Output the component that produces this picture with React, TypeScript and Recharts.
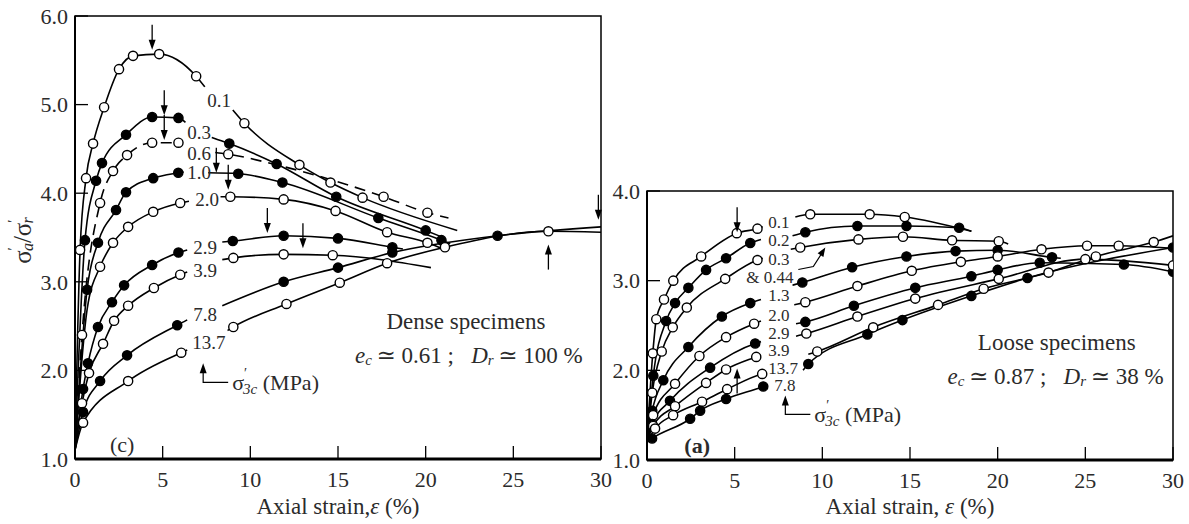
import React from 'react';
import { LineChart, Line, XAxis, YAxis, ReferenceDot, ReferenceArea } from 'recharts';

// point = [axial strain %, stress ratio, 0 when the point carries no marker]

// ---- dense specimens (c) ----
const D01_A = [[0, 1.1, 0], [0.29, 3.36], [0.63, 4.17], [1.03, 4.56], [1.66, 4.97], [2.51, 5.4], [3.31, 5.55], [4.8, 5.57], [6.91, 5.32], [7.4, 5.2, 0]];
const D01_B = [[9.0, 4.94, 0], [9.66, 4.79], [12.8, 4.32], [14.57, 4.12], [16.4, 3.95], [21.8, 3.58, 0]];
const D03_A = [[0, 1.1, 0], [0.57, 3.47], [1.2, 4.14], [1.54, 4.34], [2.91, 4.66], [4.4, 4.86], [5.9, 4.85], [6.3, 4.8, 0]];
const D03_B = [[7.8, 4.63, 0], [8.8, 4.56], [11.5, 4.33], [14.9, 3.96], [20.0, 3.58], [21.0, 3.5, 0]];
const D06_A = [[0, 1.1, 0], [0.4, 2.4], [1.43, 3.89], [2.17, 4.25], [2.97, 4.43], [4.4, 4.57], [5.9, 4.57]];
const D06_B = [[8.0, 4.46, 0], [8.74, 4.44], [11.5, 4.32, 0], [17.6, 3.96], [20.1, 3.78], [21.3, 3.72, 0]];
const D10_A = [[0, 1.1, 0], [0.69, 2.91], [1.31, 3.44], [2.34, 3.81], [2.91, 4.01], [4.46, 4.17], [5.89, 4.23], [6.2, 4.24, 0]];
const D10_B = [[7.6, 4.23, 0], [9.31, 4.22], [11.83, 4.12], [17.3, 3.72], [20.9, 3.47], [21.4, 3.43, 0]];
const D20_A = [[0, 1.1, 0], [0.7, 2.7, 0], [1.43, 3.17], [2.17, 3.44], [3.03, 3.62], [4.46, 3.79], [6.0, 3.89], [6.5, 3.91, 0]];
const D20_B = [[8.3, 3.96, 0], [8.86, 3.96], [11.9, 3.93], [14.86, 3.8], [17.8, 3.56], [20.1, 3.44], [21.1, 3.36, 0]];
const D29_A = [[0, 1.1, 0], [0.46, 1.79], [0.74, 2.08], [1.31, 2.49], [2.11, 2.77], [2.8, 2.96], [4.4, 3.19], [5.9, 3.33], [6.4, 3.36, 0]];
const D29_B = [[8.4, 3.45, 0], [9.0, 3.46], [11.9, 3.52], [15.0, 3.49], [18.1, 3.39], [18.7, 3.37, 0]];
const D39_A = [[0, 1.1, 0], [0.4, 1.63], [0.8, 1.97], [1.6, 2.3], [2.23, 2.56], [3.03, 2.73], [4.5, 2.93], [6.0, 3.08], [6.4, 3.11, 0]];
const D39_B = [[8.4, 3.25, 0], [9.03, 3.27], [11.9, 3.31], [14.7, 3.3], [20.3, 3.16, 0]];
const D78_A = [[0, 1.1, 0], [0.46, 1.53], [1.43, 1.88], [2.97, 2.17], [5.83, 2.51], [6.4, 2.57, 0]];
const D78_B = [[8.4, 2.73, 0], [11.9, 3.0], [15.0, 3.16], [18.1, 3.33], [24.1, 3.52], [30, 3.62, 0]];
const D137_A = [[0, 1.1, 0], [0.46, 1.41], [3.03, 1.88], [6.06, 2.2], [6.4, 2.23, 0]];
const D137_B = [[8.7, 2.45, 0], [9.03, 2.49], [12.06, 2.75], [15.1, 2.99], [17.8, 3.21], [21.1, 3.39], [27.0, 3.57], [30, 3.56, 0]];

const DENSE_LABELS = [
  { t: '0.1', x: 7.54, y: 5.05 }, { t: '0.3', x: 6.4, y: 4.69 }, { t: '0.6', x: 6.4, y: 4.45 },
  { t: '1.0', x: 6.4, y: 4.23 }, { t: '2.0', x: 6.86, y: 3.93 }, { t: '2.9', x: 6.74, y: 3.39 },
  { t: '3.9', x: 6.74, y: 3.13 }, { t: '7.8', x: 6.74, y: 2.63 }, { t: '13.7', x: 6.69, y: 2.32 },
];
const DENSE_ARROWS = [
  { x: 4.4, y: 5.62, dir: 'down' }, { x: 5.09, y: 4.88, dir: 'down' }, { x: 5.09, y: 4.6, dir: 'down' },
  { x: 8.06, y: 4.23, dir: 'down' }, { x: 8.74, y: 4.04, dir: 'down' }, { x: 10.97, y: 3.55, dir: 'down' },
  { x: 13.0, y: 3.38, dir: 'down' }, { x: 29.85, y: 3.7, dir: 'down' }, { x: 27.0, y: 3.42, dir: 'up' },
];

// ---- loose specimens (a) ----
const L01_A = [[0, 1.2, 0], [0.33, 2.19], [0.53, 2.57], [0.97, 2.79], [1.5, 3.0], [3.09, 3.27], [5.12, 3.53], [6.3, 3.58], [6.6, 3.6, 0]];
const L02_A = [[0, 1.2, 0], [0.36, 1.94], [1.09, 2.55], [1.6, 2.75], [2.36, 2.92], [3.37, 3.12], [4.51, 3.25], [5.89, 3.42], [6.5, 3.46, 0]];
const L03_A = [[0, 1.2, 0], [0.3, 1.75], [0.84, 2.21], [1.47, 2.48], [2.27, 2.7], [4.46, 3.02], [6.3, 3.23], [6.6, 3.25, 0]];
const L13_A = [[0, 1.2, 0], [0.3, 1.55], [0.93, 1.89], [2.36, 2.26], [4.27, 2.6], [5.89, 2.75], [6.5, 2.79, 0]];
const L20_A = [[0, 1.2, 0], [0.35, 1.5], [1.6, 1.85], [2.99, 2.16], [4.51, 2.37], [6.11, 2.52], [6.5, 2.55, 0]];
const L29_A = [[0, 1.2, 0], [0.3, 1.4], [1.31, 1.66], [3.6, 2.03], [6.17, 2.3], [6.5, 2.32, 0]];
const L39_A = [[0, 1.2, 0], [0.35, 1.38], [1.6, 1.6], [3.37, 1.86], [4.51, 2.01], [6.23, 2.15], [6.5, 2.17, 0]];
const L137_A = [[0, 1.2, 0], [0.46, 1.35], [1.49, 1.5], [3.14, 1.65], [4.57, 1.79], [6.57, 1.96], [6.8, 1.97, 0]];
const L78_A = [[0, 1.2, 0], [0.29, 1.24], [2.46, 1.46], [3.03, 1.55], [4.51, 1.68], [6.63, 1.82], [6.9, 1.84, 0]];

const L01_B = [[8.46, 3.71, 0], [9.31, 3.74], [12.7, 3.74], [14.7, 3.71], [18.5, 3.55, 0]];
const L02_B = [[8.3, 3.5, 0], [9.03, 3.54], [12.0, 3.61], [14.8, 3.61], [17.8, 3.59], [18.5, 3.55, 0]];
const L03_B = [[8.2, 3.35, 0], [8.74, 3.37], [12.06, 3.46], [14.6, 3.49], [17.4, 3.45], [20.06, 3.44], [20.6, 3.41, 0]];
const L044_B = [[8.3, 2.95, 0], [8.86, 2.98], [11.7, 3.15], [14.8, 3.27], [17.6, 3.33], [20.0, 3.34], [23.1, 3.26], [23.6, 3.25, 0]];
const L13_B = [[8.4, 2.73, 0], [9.03, 2.76], [12.0, 2.94], [15.1, 3.11], [17.9, 3.21], [20.0, 3.27], [22.5, 3.35], [25.1, 3.39], [26.9, 3.39], [30, 3.36, 0]];
const L20_B = [[8.5, 2.52, 0], [9.03, 2.54], [11.8, 2.72], [15.3, 2.92], [18.5, 3.05], [20.0, 3.12], [22.4, 3.2], [27.2, 3.18], [30, 3.1]];
const L29_B = [[8.5, 2.38, 0], [9.09, 2.41], [12.0, 2.6], [15.3, 2.8], [20.06, 3.02], [25.0, 3.24], [30, 3.17]];
const L39_B = [[9.2, 2.18, 0], [9.71, 2.21], [12.9, 2.48], [16.6, 2.73], [19.2, 2.91], [22.9, 3.09], [25.6, 3.27], [28.9, 3.43], [30, 3.5, 0]];
const L137_B = [[8.9, 2.0, 0], [9.2, 2.07], [12.57, 2.4], [14.57, 2.56], [18.5, 2.83], [21.7, 3.03], [30, 3.37]];

const LOOSE_LABELS = [
  { t: '0.1', x: 6.91, y: 3.65 }, { t: '0.2', x: 6.91, y: 3.45 }, { t: '0.3', x: 6.91, y: 3.24 },
  { t: '& 0.44', x: 5.66, y: 3.04 }, { t: '1.3', x: 6.91, y: 2.84 }, { t: '2.0', x: 6.91, y: 2.61 },
  { t: '2.9', x: 6.91, y: 2.415 }, { t: '3.9', x: 6.91, y: 2.225 }, { t: '13.7', x: 6.91, y: 2.025 },
  { t: '7.8', x: 7.26, y: 1.835 },
];
const LOOSE_ARROWS = [{ x: 5.14, y: 3.54, dir: 'down' }, { x: 5.14, y: 2.02, dir: 'up' }];

const X_TICKS = [0, 5, 10, 15, 20, 25, 30];
const DENSE_Y_TICKS = [1, 2, 3, 4, 5, 6];
const LOOSE_Y_TICKS = [1, 2, 3, 4];

const FONT = '"Liberation Serif", "DejaVu Serif", serif';
const INK = '#000';
const TXT = '#2b2b2b';

const toPts = (a: number[][]) => a.map(([x, y, m]) => ({ x, y, m: m === 0 ? 0 : 1 }));

function makeDot(filled: boolean) {
  return (p: any) => {
    const { cx, cy, payload, index } = p;
    if (!payload || payload.m === 0 || cx == null || cy == null) return <g key={`n${index}`} />;
    return <circle key={`d${index}`} cx={cx} cy={cy} r={4.6} fill={filled ? INK : '#fff'} stroke={INK} strokeWidth={1.4} />;
  };
}

const DENSE_SERIES = [
  { id: 'd01a', pts: D01_A, filled: false }, { id: 'd01b', pts: D01_B, filled: false },
  { id: 'd03a', pts: D03_A, filled: true }, { id: 'd03b', pts: D03_B, filled: true },
  { id: 'd06a', pts: D06_A, filled: false, dashed: true }, { id: 'd06b', pts: D06_B, filled: false, dashed: true },
  { id: 'd10a', pts: D10_A, filled: true }, { id: 'd10b', pts: D10_B, filled: true },
  { id: 'd20a', pts: D20_A, filled: false }, { id: 'd20b', pts: D20_B, filled: false },
  { id: 'd29a', pts: D29_A, filled: true }, { id: 'd29b', pts: D29_B, filled: true },
  { id: 'd39a', pts: D39_A, filled: false }, { id: 'd39b', pts: D39_B, filled: false },
  { id: 'd78a', pts: D78_A, filled: true }, { id: 'd78b', pts: D78_B, filled: true },
  { id: 'd137a', pts: D137_A, filled: false }, { id: 'd137b', pts: D137_B, filled: false },
];

const LOOSE_SERIES = [
  { id: 'l01a', pts: L01_A, filled: false }, { id: 'l02a', pts: L02_A, filled: true },
  { id: 'l03a', pts: L03_A, filled: false }, { id: 'l13a', pts: L13_A, filled: true },
  { id: 'l20a', pts: L20_A, filled: false }, { id: 'l29a', pts: L29_A, filled: true },
  { id: 'l39a', pts: L39_A, filled: false }, { id: 'l137a', pts: L137_A, filled: false },
  { id: 'l78a', pts: L78_A, filled: true },
  { id: 'l01b', pts: L01_B, filled: false }, { id: 'l02b', pts: L02_B, filled: true },
  { id: 'l03b', pts: L03_B, filled: false }, { id: 'l044b', pts: L044_B, filled: true },
  { id: 'l13b', pts: L13_B, filled: false }, { id: 'l20b', pts: L20_B, filled: true },
  { id: 'l29b', pts: L29_B, filled: false }, { id: 'l39b', pts: L39_B, filled: false },
  { id: 'l137b', pts: L137_B, filled: true },
];

// ---- shapes drawn at data positions ----
const arrowShape = (dir: string) => (p: any) => {
  const { cx, cy } = p;
  const s = dir === 'up' ? 1 : -1;
  return (
    <g>
      <line x1={cx} y1={cy + s * 25} x2={cx} y2={cy + s * 6} stroke={INK} strokeWidth={1.3} />
      <path d={`M${cx},${cy} L${cx - 3.5},${cy + s * 10} L${cx + 3.5},${cy + s * 10} Z`} fill={INK} />
    </g>
  );
};

const curveLabel = (t: string, size: number) => (p: any) => (
  <text x={p.cx} y={p.cy} dominantBaseline="central" fontSize={size} fill={TXT} fontFamily={FONT}>{t}</text>
);

const leaderShape = (p: any) => {
  const { cx, cy } = p;
  return (
    <g>
      <path d={`M${cx - 27},${cy + 22} L${cx - 12},${cy + 19} L${cx - 3},${cy + 5}`} fill="none" stroke={INK} strokeWidth={1.2} />
      <path d={`M${cx},${cy} L${cx - 1.9},${cy + 9.4} L${cx - 7.7},${cy + 5.8} Z`} fill={INK} />
    </g>
  );
};

const sigmaLeader = (p: any) => {
  const { cx, cy } = p;
  return (
    <g>
      <path d={`M${cx},${cy + 6} V${cy + 19} H${cx + 25}`} fill="none" stroke={INK} strokeWidth={1.2} />
      <path d={`M${cx},${cy} L${cx - 3.5},${cy + 10} L${cx + 3.5},${cy + 10} Z`} fill={INK} />
      <text x={cx + 29} y={cy + 19} dominantBaseline="central" fontSize={22} fill={TXT} fontFamily={FONT}>
        σ<tspan dy={-9} fontSize={14}>′</tspan>
        <tspan dx={-4} dy={16} fontSize={15} fontStyle="italic">3c</tspan>
        <tspan dy={-7}>{'\u00a0(MPa)'}</tspan>
      </text>
    </g>
  );
};

const titleText = (t: string) => (p: any) => (
  <text x={p.cx} y={p.cy} textAnchor="middle" dominantBaseline="central" fontSize={23} fill={TXT} fontFamily={FONT}>{t}</text>
);

const stateText = (ec: string, dr: string) => (p: any) => (
  <text x={p.cx} y={p.cy} textAnchor="middle" dominantBaseline="central" fontSize={23} fill={TXT} fontFamily={FONT}>
    <tspan fontStyle="italic">e</tspan>
    <tspan fontStyle="italic" fontSize={15} dy={5}>c</tspan>
    <tspan dy={-5}>{`\u2009≃ ${ec} ;\u00a0\u00a0 `}</tspan>
    <tspan fontStyle="italic">D</tspan>
    <tspan fontStyle="italic" fontSize={15} dy={5}>r</tspan>
    <tspan dy={-5}>{`\u2009≃ ${dr} %`}</tspan>
  </text>
);

const tagText = (t: string, bold: boolean) => (p: any) => (
  <text x={p.cx} y={p.cy} textAnchor="middle" dominantBaseline="central" fontSize={22} fontWeight={bold ? 700 : 400} fill={TXT} fontFamily={FONT}>{t}</text>
);

const xTitle = (t: string) => (p: any) => {
  const vb = p.viewBox || {};
  return (
    <text x={vb.x + vb.width / 2} y={vb.y + vb.height - 10} textAnchor="middle" fontSize={23} fill={TXT} fontFamily={FONT}>
      {t}<tspan fontStyle="italic">ε</tspan>{'\u00a0(%)'}
    </text>
  );
};

const yTitle = (p: any) => {
  const vb = p.viewBox || {};
  const x = vb.x + 22;
  const y = vb.y + vb.height / 2 + 3;
  return (
    <text x={x} y={y} transform={`rotate(-90 ${x} ${y})`} textAnchor="middle" dominantBaseline="central" fontSize={25} fill={TXT} fontFamily={FONT}>
      σ<tspan dy={-9} fontSize={15}>′</tspan>
      <tspan dx={-4} dy={14} fontSize={16} fontStyle="italic">a</tspan>
      <tspan dy={-5}>/σ</tspan>
      <tspan dy={-9} fontSize={15}>′</tspan>
      <tspan dx={-4} dy={14} fontSize={16} fontStyle="italic">r</tspan>
    </text>
  );
};

function Panel(props: any) {
  const { width, top, right, yMax, yTicks, series, labels, labelSize, arrows, extras, axisTitle, showYTitle, xAxisHeight } = props;
  return (
    <LineChart width={width} height={524} margin={{ top, right, bottom: 0, left: 0 }}>
      <XAxis
        type="number"
        dataKey="x"
        domain={[0, 30]}
        ticks={X_TICKS}
        interval={0}
        allowDataOverflow
        height={xAxisHeight}
        tickSize={-13}
        tickMargin={25}
        axisLine={{ stroke: INK, strokeWidth: 3 }}
        tickLine={{ stroke: INK, strokeWidth: 1.3 }}
        tick={{ fontSize: 22, fill: TXT, fontFamily: FONT }}
        label={xTitle(axisTitle)}
      />
      <YAxis
        type="number"
        domain={[1, yMax]}
        ticks={yTicks}
        interval={0}
        allowDataOverflow
        width={75}
        tickSize={-13}
        tickMargin={20}
        tickFormatter={(v: number) => v.toFixed(1)}
        axisLine={{ stroke: INK, strokeWidth: 2 }}
        tickLine={{ stroke: INK, strokeWidth: 1.3 }}
        tick={{ fontSize: 22, fill: TXT, fontFamily: FONT }}
        label={showYTitle ? yTitle : undefined}
      />
      <ReferenceArea x1={0} x2={30} y1={1} y2={yMax} fill="none" stroke={INK} strokeWidth={1.5} ifOverflow="visible" />
      {series.map((s: any) => (
        <Line
          key={s.id}
          data={toPts(s.pts)}
          dataKey="y"
          type="monotone"
          stroke={INK}
          strokeWidth={1.6}
          strokeDasharray={s.dashed ? '11 7' : undefined}
          dot={makeDot(s.filled)}
          activeDot={false}
          isAnimationActive={false}
        />
      ))}
      {labels.map((l: any, i: number) => (
        <ReferenceDot key={`lb${i}`} x={l.x} y={l.y} r={0} ifOverflow="visible" shape={curveLabel(l.t, labelSize)} />
      ))}
      {arrows.map((a: any, i: number) => (
        <ReferenceDot key={`ar${i}`} x={a.x} y={a.y} r={0} ifOverflow="visible" shape={arrowShape(a.dir)} />
      ))}
      {extras.map((e: any, i: number) => (
        <ReferenceDot key={`ex${i}`} x={e.x} y={e.y} r={0} ifOverflow="visible" shape={e.shape} />
      ))}
    </LineChart>
  );
}

const DENSE_EXTRAS = [
  { x: 22.3, y: 2.55, shape: titleText('Dense specimens') },
  { x: 22.46, y: 2.17, shape: stateText('0.61', '100') },
  { x: 7.31, y: 2.08, shape: sigmaLeader },
  { x: 2.69, y: 1.16, shape: tagText('(c)', false) },
];

const LOOSE_EXTRAS = [
  { x: 23.37, y: 2.31, shape: titleText('Loose specimens') },
  { x: 23.3, y: 1.94, shape: stateText('0.87', '38') },
  { x: 7.89, y: 1.72, shape: sigmaLeader },
  { x: 2.86, y: 1.16, shape: tagText('(a)', true) },
  { x: 10.17, y: 3.37, shape: leaderShape },
];

export default function App() {
  return (
    <div style={{ position: 'absolute', left: 0, top: 0, width: 1189, height: 524, background: '#fff', fontFamily: FONT }}>
      <style>{'svg text, svg tspan { font-family: "Liberation Serif", "DejaVu Serif", serif; }'}</style>
      <div style={{ position: 'absolute', left: 0, top: 0 }}>
        <Panel
          width={620}
          top={16}
          right={19}
          yMax={6}
          yTicks={DENSE_Y_TICKS}
          series={DENSE_SERIES}
          labels={DENSE_LABELS}
          labelSize={19}
          arrows={DENSE_ARROWS}
          extras={DENSE_EXTRAS}
          axisTitle="Axial strain,"
          showYTitle
          xAxisHeight={65}
        />
      </div>
      <div style={{ position: 'absolute', left: 572, top: 0 }}>
        <Panel
          width={617}
          top={191}
          right={16}
          yMax={4}
          yTicks={LOOSE_Y_TICKS}
          series={LOOSE_SERIES}
          labels={LOOSE_LABELS}
          labelSize={17}
          arrows={LOOSE_ARROWS}
          extras={LOOSE_EXTRAS}
          axisTitle="Axial strain, "
          showYTitle={false}
          xAxisHeight={64}
        />
      </div>
    </div>
  );
}
